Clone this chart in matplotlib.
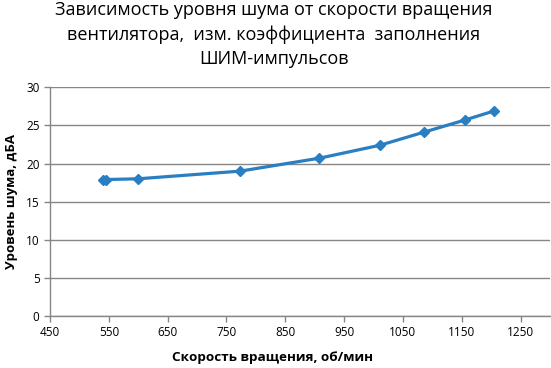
import matplotlib.pyplot as plt
import numpy as np

# Noise level vs. fan speed (PWM duty changed)
rpm = [540, 546, 600, 773, 908, 1011, 1085, 1155, 1205]
noise_dba = [17.9, 17.9, 18.0, 19.0, 20.7, 22.4, 24.1, 25.7, 26.9]

x_ticks = [450, 550, 650, 750, 850, 950, 1050, 1150, 1250]
y_ticks = [0, 5, 10, 15, 20, 25, 30]

plt.rcParams['font.family'] = ['Open Sans', 'DejaVu Sans']

fig = plt.figure(figsize=(5.51, 3.68), dpi=100)
ax = fig.add_axes([50 / 551, 1 - 316 / 368, 500 / 551, (316 - 87.3) / 368])

grid_c = '#868686'
ax.plot(rpm, noise_dba, color='#2A7FC2', linewidth=2.3, marker='D',
        markersize=5.5, zorder=3)

ax.set_xlim(450, 1300)
ax.set_ylim(0, 30)
ax.set_xticks(x_ticks)
ax.set_yticks(y_ticks)
ax.grid(axis='y', color=grid_c, linewidth=1)
ax.set_axisbelow(True)

for s in ['top', 'right']:
    ax.spines[s].set_visible(False)
for s in ['left', 'bottom']:
    ax.spines[s].set_color(grid_c)
    ax.spines[s].set_linewidth(1)
ax.tick_params(colors=grid_c, labelcolor='black', labelsize=8.5,
               length=4, width=1)

ax.set_xlabel('Скорость вращения, об/мин', fontsize=9.7, fontweight='bold')
ax.xaxis.set_label_coords(0.444, -0.152)
ax.set_ylabel('Уровень шума, дБА', fontsize=9.5, fontweight='bold',
              labelpad=6)

fig.text(0.497, 0.998,
         'Зависимость уровня шума от скорости вращения\n'
         'вентилятора,  изм. коэффициента  заполнения\n'
         'ШИМ-импульсов',
         ha='center', va='top', fontsize=13, linespacing=1.45)

fig.savefig('out.png', dpi=100)
